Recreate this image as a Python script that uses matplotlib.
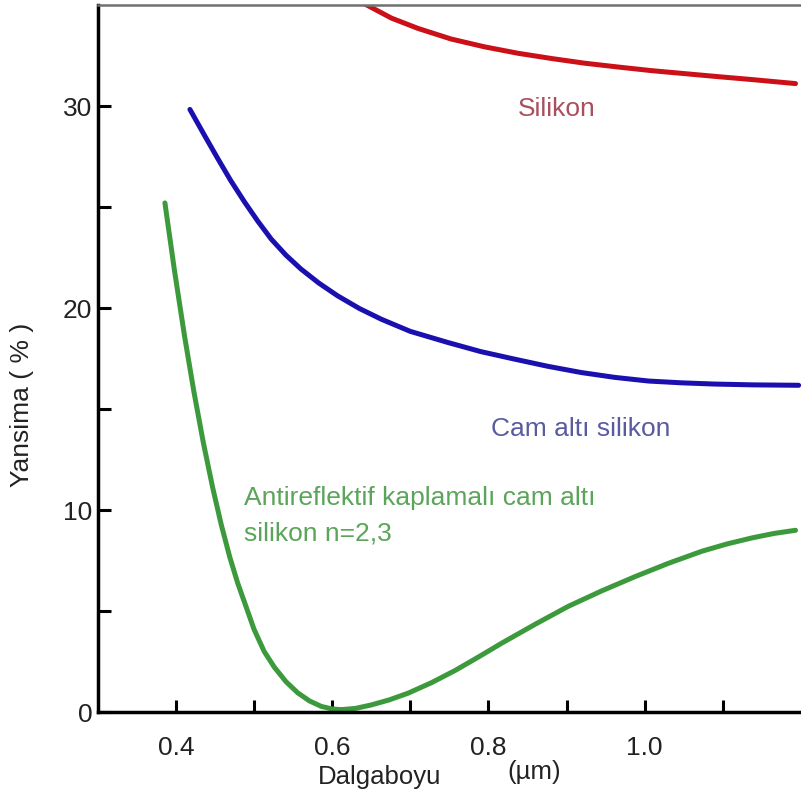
# reflectance of silicon vs wavelength, bare / under glass / AR-coated glass

import matplotlib
matplotlib.use("Agg")
import matplotlib.pyplot as plt

# wavelength (um) and reflectance (%)
si_x = [0.640, 0.676, 0.710, 0.752, 0.795, 0.838, 0.881, 0.923, 0.966, 1.009,
        1.052, 1.095, 1.137, 1.165, 1.193]
si_y = [35.1, 34.36, 33.85, 33.33, 32.94, 32.62, 32.36, 32.13, 31.94, 31.76,
        31.61, 31.46, 31.32, 31.22, 31.12]

glass_x = [0.418, 0.436, 0.453, 0.470, 0.488, 0.505, 0.522, 0.541, 0.560, 0.583,
           0.607, 0.635, 0.663, 0.700, 0.748, 0.790, 0.834, 0.876, 0.919, 0.962,
           1.005, 1.048, 1.090, 1.140, 1.197]
glass_y = [29.84, 28.60, 27.45, 26.33, 25.25, 24.30, 23.42, 22.62, 21.94, 21.24,
           20.61, 19.98, 19.45, 18.85, 18.30, 17.85, 17.47, 17.12, 16.81, 16.57,
           16.39, 16.30, 16.24, 16.20, 16.18]

ar_x = [0.386, 0.398, 0.411, 0.423, 0.435, 0.447, 0.458, 0.469, 0.479, 0.490,
        0.500, 0.513, 0.526, 0.541, 0.556, 0.571, 0.586, 0.600, 0.612, 0.630,
        0.650, 0.673, 0.697, 0.727, 0.757, 0.787, 0.817, 0.860, 0.902, 0.945,
        0.988, 1.030, 1.073, 1.105, 1.137, 1.165, 1.193]
ar_y = [25.21, 21.92, 18.64, 15.88, 13.37, 11.13, 9.29, 7.67, 6.40, 5.20,
        4.10, 3.00, 2.22, 1.50, 0.95, 0.55, 0.28, 0.15, 0.12, 0.18,
        0.35, 0.60, 0.93, 1.45, 2.05, 2.72, 3.41, 4.35, 5.23, 6.00,
        6.71, 7.36, 7.96, 8.32, 8.62, 8.84, 9.00]

x_ticks = [0.4, 0.5, 0.6, 0.7, 0.8, 0.9, 1.0, 1.1]
x_ticklabels = ["0.4", "", "0.6", "", "0.8", "", "1.0", ""]
y_ticks = [0, 5, 10, 15, 20, 25, 30]
y_ticklabels = ["0", "", "10", "", "20", "", "30"]

plt.rcParams['font.family'] = ['Liberation Sans', 'DejaVu Sans']

fig = plt.figure(figsize=(8.01, 8.05), dpi=100)
ax = fig.add_axes([0.122, 0.1155, 0.878, 0.878])

lw = 3.6
ax.plot(si_x, si_y, color='#cc1018', lw=lw, solid_capstyle='round', solid_joinstyle='round')
ax.plot(glass_x, glass_y, color='#1a10b0', lw=lw, solid_capstyle='round', solid_joinstyle='round')
ax.plot(ar_x, ar_y, color='#3c9a3c', lw=lw, solid_capstyle='round', solid_joinstyle='round')

ax.set_xlim(0.30, 1.20)
ax.set_ylim(0, 35)

ax.set_xticks(x_ticks)
ax.set_xticklabels(x_ticklabels)
ax.set_yticks(y_ticks)
ax.set_yticklabels(y_ticklabels)
ax.tick_params(axis='both', direction='in', length=9, width=2.2, labelsize=19,
               labelcolor='#222222', color='black')
ax.tick_params(axis='x', pad=17)
ax.tick_params(axis='y', pad=4)

for s in ['left', 'bottom']:
    ax.spines[s].set_linewidth(2.5)
    ax.spines[s].set_color('black')
ax.spines['right'].set_visible(False)
ax.spines['top'].set_linewidth(1.8)
ax.spines['top'].set_color('#707070')

# curve labels
ax.text(0.887, 29.53, "Silikon", color='#a8505e', fontsize=19, ha='center', va='baseline')
ax.text(0.918, 13.65, "Cam altı silikon", color='#5a5aa0', fontsize=19, ha='center', va='baseline')
ax.text(0.487, 10.27, "Antireflektif kaplamalı cam altı", color='#5aa55a',
        fontsize=19, ha='left', va='baseline')
ax.text(0.487, 8.49, "silikon n=2,3", color='#5aa55a',
        fontsize=19, ha='left', va='baseline')

# axis labels placed by hand like the original
fig.text(380 / 801, 1 - 777 / 805, "Dalgaboyu", fontsize=18.5, color='#222222', ha='center', va='center')
fig.text(534 / 801, 1 - 772 / 805, "(µm)", fontsize=18.5, color='#222222', ha='center', va='center')
fig.text(22 / 801, 1 - 405 / 805, "Yansima ( % )", fontsize=19, color='#222222',
         rotation=90, ha='center', va='center')

fig.savefig("out.png", dpi=100, facecolor='white')
